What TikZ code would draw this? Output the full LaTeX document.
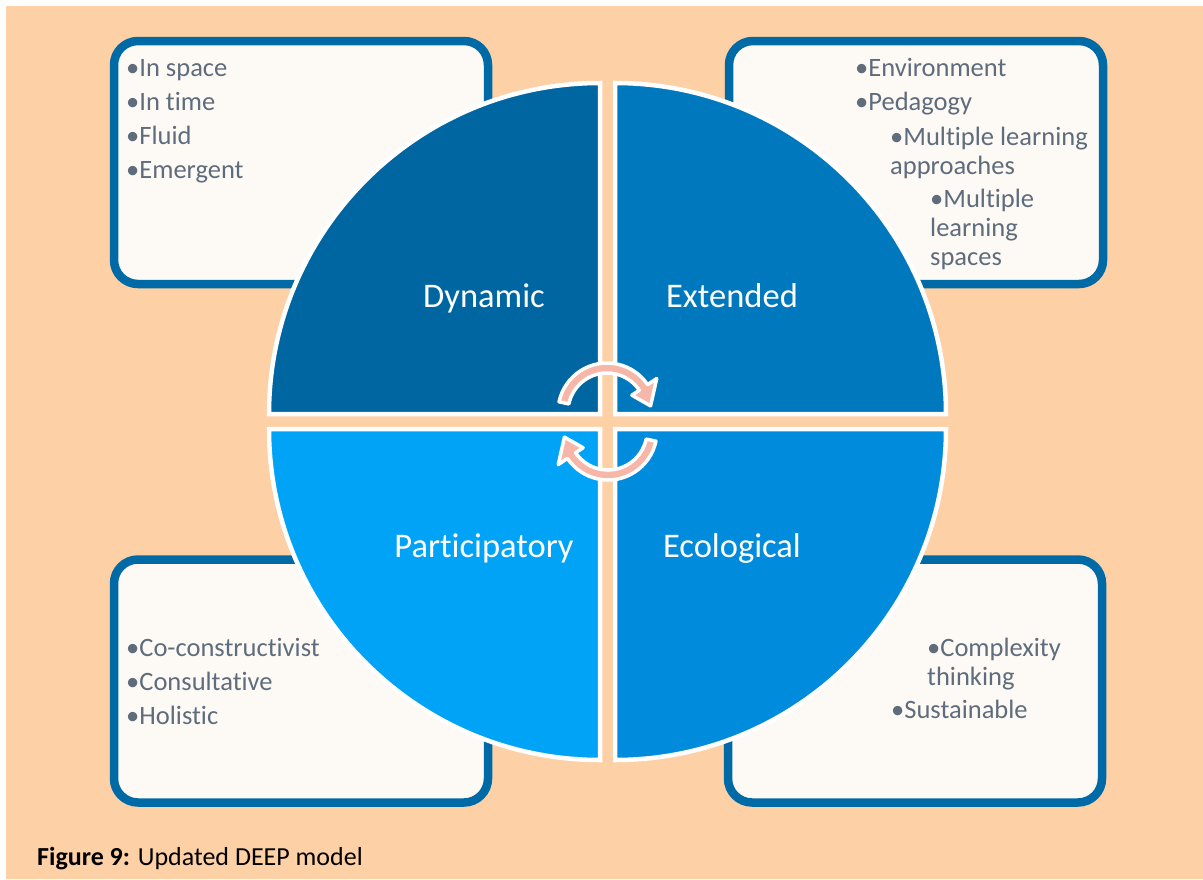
\documentclass[tikz,border=0pt]{standalone}
\usepackage{fontspec}
\setmainfont{Carlito}[Ligatures=NoCommon]
\definecolor{peach}{RGB}{253,208,166}
\definecolor{cream}{RGB}{253,250,245}
\definecolor{frameblue}{RGB}{0,106,166}
\definecolor{dynblue}{RGB}{0,102,162}
\definecolor{extblue}{RGB}{0,120,190}
\definecolor{parblue}{RGB}{0,163,246}
\definecolor{ecoblue}{RGB}{0,139,220}
\definecolor{bullettext}{RGB}{94,108,124}
\definecolor{arrowpink}{RGB}{246,182,168}

\begin{document}
\begin{tikzpicture}[x=1pt,y=1pt,
	infobox/.style={draw=frameblue,line width=8.5pt,fill=cream,rounded corners=24pt,minimum width=374pt,minimum height=243pt,inner sep=0pt},
	bullets/.style={anchor=base west,inner sep=0pt,align=left,text=bullettext,font=\fontsize{26.5}{29}\selectfont},
	quarter/.style={draw=white,line width=4.5pt},
	quadlabel/.style={anchor=base,inner sep=0pt,text=white,font=\fontsize{34.5}{40}\selectfont},
	cycle arrow/.style={fill=arrowpink,draw=white,line width=3.5pt,line join=round}]
				\useasboundingbox (0,0) rectangle (1203,-879);
				\fill[white] (0,0) rectangle (1203,-879);
				\fill[peach] (6,-6) rectangle (1203,-879);
				% boxes behind the circle
				\node[infobox] (boxdyn) at (301,-162.5) {};
				\node[infobox] (boxext) at (916,-162.5) {};
				\node[infobox] (boxpar) at (301,-681) {};
				\node[infobox] (boxeco) at (915,-681) {};
				% base of a multi-line node is its last line
				\node[bullets] (dyn1) at (126,-76) {•In space};
				\node[bullets] (dyn2) at (126,-110) {•In time};
				\node[bullets] (dyn3) at (126,-144) {•Fluid};
				\node[bullets] (dyn4) at (126,-178) {•Emergent};
				\node[bullets] (ext1) at (855,-76) {•Environment};
				\node[bullets] (ext2) at (855,-110) {•Pedagogy};
				\node[bullets] (ext3) at (890,-174) {•Multiple learning\\approaches};
				\node[bullets] (ext4) at (930,-265) {•Multiple\\learning\\spaces};
				\node[bullets] (par1) at (126,-656) {•Co-constructivist};
				\node[bullets] (par2) at (126,-690) {•Consultative};
				\node[bullets] (par3) at (126,-724) {•Holistic};
				\node[bullets] (eco1) at (927,-685) {•Complexity\\thinking};
				\node[bullets] (eco2) at (891,-718) {•Sustainable};
				% the four quarters
				\draw[quarter,fill=dynblue] (600,-414) -- ++(0,331) arc[start angle=90,end angle=180,radius=331] -- cycle;
				\draw[quarter,fill=extblue] (615,-414) -- ++(331,0) arc[start angle=0,end angle=90,radius=331] -- cycle;
				\draw[quarter,fill=parblue] (600,-429) -- ++(-331,0) arc[start angle=180,end angle=270,radius=331] -- cycle;
				\draw[quarter,fill=ecoblue] (615,-429) -- ++(0,-331) arc[start angle=270,end angle=360,radius=331] -- cycle;
				\node[quadlabel] (dyn) at (484,-307) {Dynamic};
				\node[quadlabel] (ext) at (732,-307) {Extended};
				\node[quadlabel] (par) at (484,-557) {Participatory};
				\node[quadlabel] (eco) at (732,-557) {Ecological};
				% turning arrows
				\foreach \r in {0,180}
					\draw[cycle arrow,rotate around={\r:(607.5,-421.5)},shift={(607,-412)}] (168:49) arc[start angle=168,end angle=34,radius=49] -- (34:60) -- (8:44) -- (34:30) -- (34:39) arc[start angle=34,end angle=168,radius=39] -- cycle;
				\node[anchor=base west,inner sep=0pt,font=\fontsize{26}{30}\selectfont] (caption) at (37,-865) {\textbf{Figure 9:} Updated DEEP model};
			\end{tikzpicture}
\end{document}
